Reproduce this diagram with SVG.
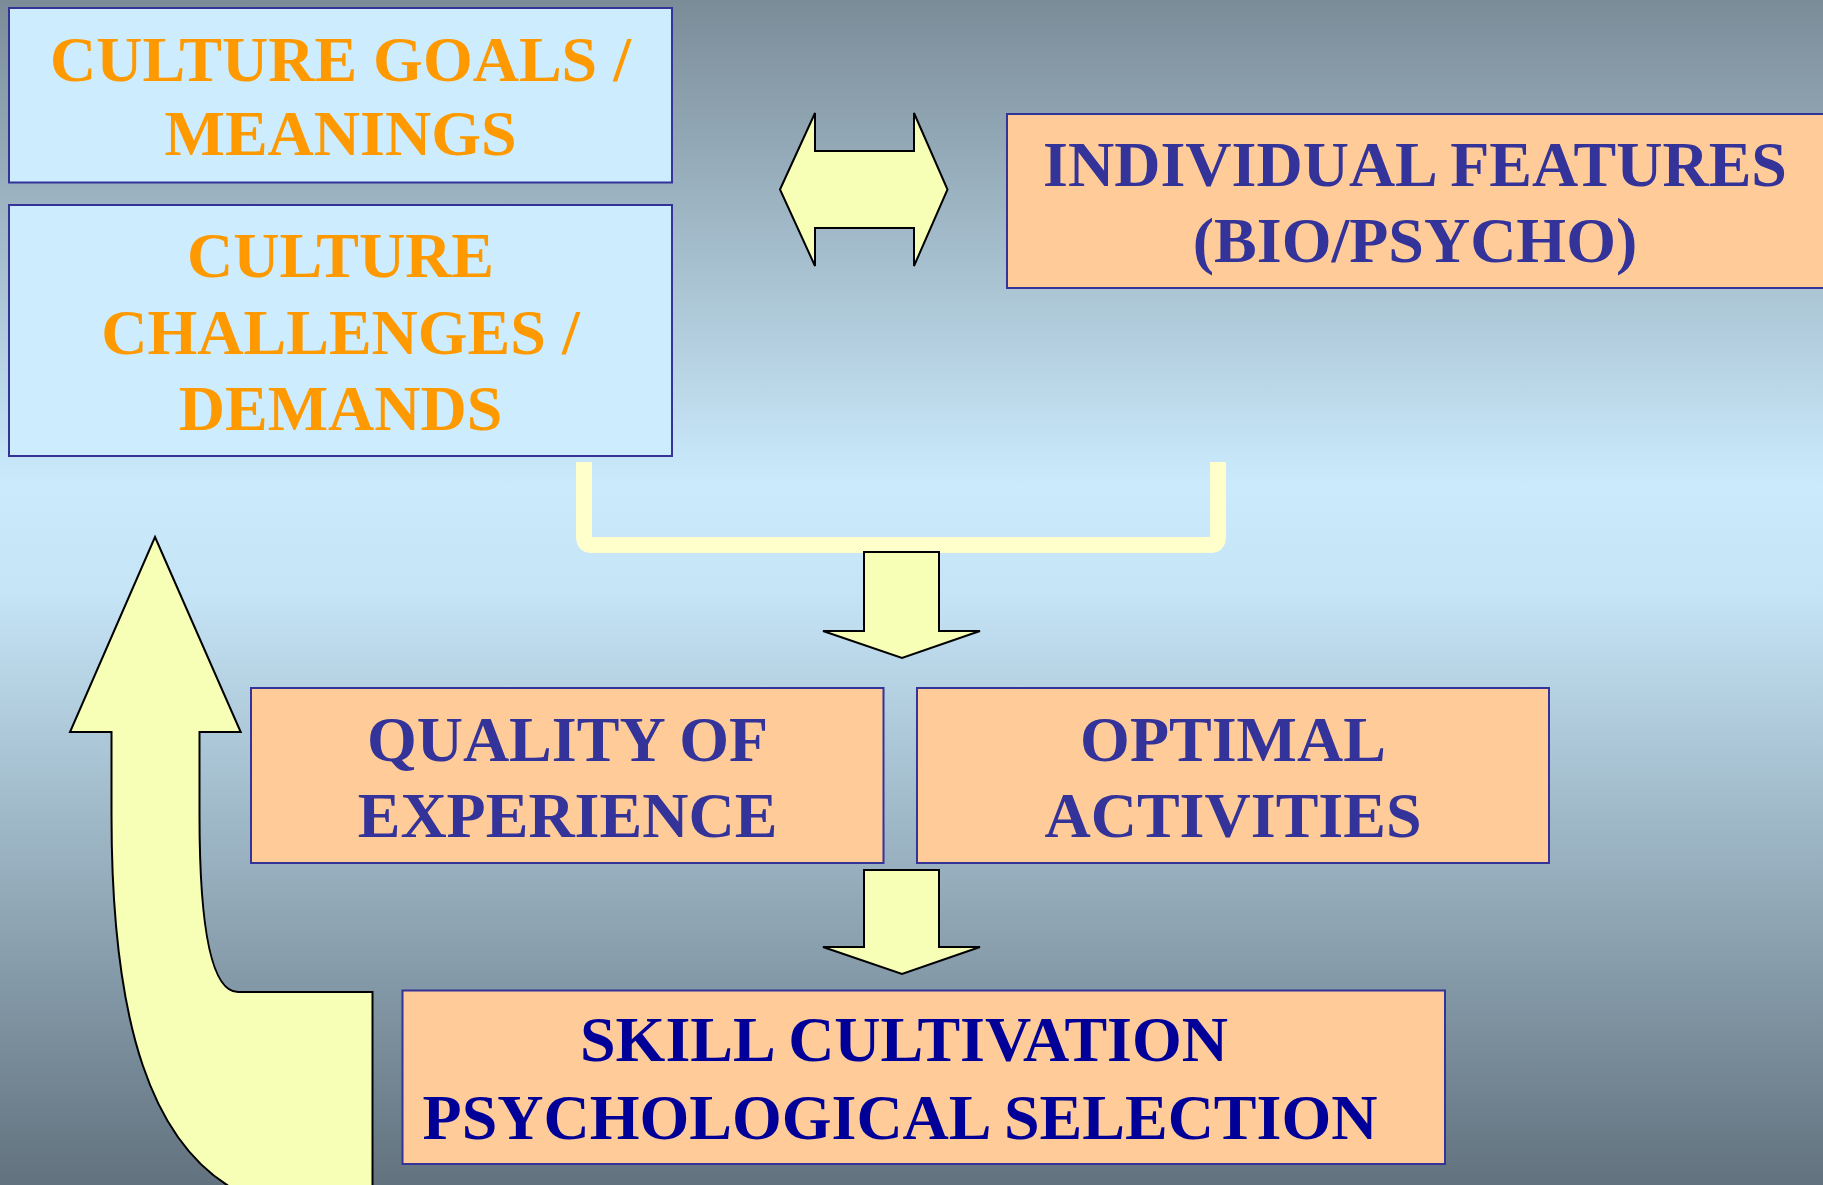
<svg xmlns="http://www.w3.org/2000/svg" width="1823" height="1185" viewBox="0 0 1823 1185">
<defs>
<linearGradient id="bg" x1="0" y1="0" x2="0" y2="1">
<stop offset="0" stop-color="#7b8c98"/>
<stop offset="0.41" stop-color="#cbebfd"/>
<stop offset="0.5" stop-color="#c5e4f6"/>
<stop offset="1" stop-color="#62727e"/>
</linearGradient>
<style>
.box{stroke:#333399;stroke-width:2}
.blue{fill:#cdecfd}
.peach{fill:#ffcc99}
.t{font-family:"Liberation Serif","Times New Roman",serif;font-weight:bold;font-size:64px;text-anchor:middle}
.or{fill:#ff9900}
.nv{fill:#333399}
.dk{fill:#000099}
.arr{fill:#f7feb6;stroke:#000;stroke-width:2;stroke-linejoin:miter}
</style>
</defs>
<rect x="0" y="0" width="1823" height="1185" fill="url(#bg)"/>

<g id="connectors">
<path d="M584 462 L584 537 Q584 545 592 545 L1210 545 Q1218 545 1218 537 L1218 462" fill="none" stroke="#ffffcc" stroke-width="16"/>
<path class="arr" d="M780 189.5 L815 113 L815 151 L914 151 L914 113 L947.5 189.5 L914 266 L914 228 L815 228 L815 266 Z"/>
<path class="arr" d="M864 552 L939 552 L939 631 L980 631 L902 658 L823 631 L864 631 Z"/>
<path class="arr" d="M864 870 L939 870 L939 947 L980 947 L902 974 L823 947 L864 947 Z"/>
<path class="arr" d="M155 537 L240.7 732 L199.5 732 L199.5 815 C199.5 930 212 992 238 992 L372.5 992 L372.5 1195 L245 1195 C150 1150 111.5 1020 111.5 815 L111.5 732 L70 732 Z"/>
</g>

<g id="node-culture-goals">
<rect class="box blue" x="9" y="8" width="663" height="174.5"/>
<text class="t or" x="340.5" y="81">CULTURE GOALS /</text>
<text class="t or" x="340.5" y="155">MEANINGS</text>
</g>

<g id="node-culture-challenges">
<rect class="box blue" x="9" y="205" width="663" height="251"/>
<text class="t or" x="340.5" y="277">CULTURE</text>
<text class="t or" x="340.5" y="354">CHALLENGES /</text>
<text class="t or" x="340.5" y="430">DEMANDS</text>
</g>

<g id="node-individual-features">
<rect class="box peach" x="1007" y="114" width="830" height="174"/>
<text class="t nv" x="1415" y="186">INDIVIDUAL FEATURES</text>
<text class="t nv" x="1415" y="262">(BIO/PSYCHO)</text>
</g>

<g id="node-quality">
<rect class="box peach" x="251" y="688" width="632.5" height="175"/>
<text class="t nv" x="567.5" y="761">QUALITY OF</text>
<text class="t nv" x="567.5" y="837">EXPERIENCE</text>
</g>

<g id="node-optimal">
<rect class="box peach" x="917" y="688" width="632" height="175"/>
<text class="t nv" x="1233" y="761">OPTIMAL</text>
<text class="t nv" x="1233" y="837">ACTIVITIES</text>
</g>

<g id="node-skill">
<rect class="box peach" x="402.5" y="990.5" width="1042.5" height="173.5"/>
<text class="t dk" x="904" y="1061">SKILL CULTIVATION</text>
<text class="t dk" x="900" y="1139">PSYCHOLOGICAL SELECTION</text>
</g>
</svg>
